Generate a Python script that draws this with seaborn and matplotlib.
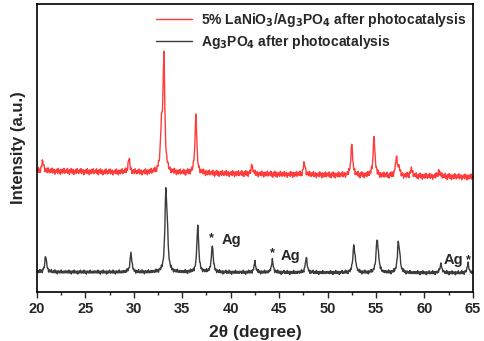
import numpy as np
import pandas as pd
import matplotlib
matplotlib.use("Agg")
import matplotlib.pyplot as plt
import seaborn as sns

# ===== Данные =====
two_theta = np.arange(20.0, 65.0001, 0.05)

# красная кривая: 5% LaNiO3/Ag3PO4
red_base_left, red_base_right = 121, 115
red_pos = [20.6, 29.5, 32.85, 33.1, 36.4, 42.2, 47.6, 52.5, 54.8, 57.1, 57.35, 58.65, 61.5]
red_hgt = [10, 13, 40, 115, 57, 8, 12, 31, 39, 18, 8, 7, 6]

# чёрная кривая: Ag3PO4
blk_base_left, blk_base_right = 20, 19
blk_pos = [20.9, 29.7, 33.3, 33.45, 36.6, 38.1, 42.5, 44.3, 47.8, 52.7, 52.85, 55.1, 55.25, 57.3, 57.45, 61.7, 64.5]
blk_hgt = [16, 19, 74, 30, 47, 27, 10, 12, 15, 24, 8, 31, 10, 28, 10, 9, 9]

# шум фона (в тех же условных единицах)
red_noise = [0, 2, -1, 3, -2, 1, 0, -3, 2, 1, -1, 3, 0, -2, 1, 2, -3, 0, 1, -1,
             2, -2, 0, 3, -1, 1, -2, 0, 2, -1, 1, 3, -2, 0, -1, 2, 0, -3, 1, 0,
             -1, 2, 1, -2, 3, 0, -1, 1, -3, 2, 0, 1, -2, 2, -1, 0, 3, -2, 1, -1]
blk_noise = [0, 1, -1, 1, 0, -1, 2, 0, -1, 1, 0, -2, 1, 0, 1, -1, 0, 2, -1, 0,
             1, -1, 0, 1, -2, 1, 0, -1, 1, 0, 2, -1, 0, -1, 1, 0, -1, 2, 0, -1,
             1, 0, -2, 1, 0, 1, -1, 0, 1, -1, 2, 0, -1, 0, 1, -1, 0, 1, -1, 1]

labels = ["5% LaNiO$_\\mathbf{3}$/Ag$_\\mathbf{3}$PO$_\\mathbf{4}$ after photocatalysis",
          "Ag$_\\mathbf{3}$PO$_\\mathbf{4}$ after photocatalysis"]

ag_star_x = [38.05, 44.35, 64.5]
ag_star_y = [54, 39, 32]
ag_text_x = [39.1, 45.2, 62.0]
ag_text_y = [52, 36, 32]


def pattern(pos, hgt, b_left, b_right, noise):
    y = np.linspace(b_left, b_right, len(two_theta))
    for p, h in zip(pos, hgt):
        y = y + h / (1 + ((two_theta - p) / 0.11) ** 2)
    n = np.resize(np.array(noise, dtype=float), len(two_theta))
    return y + n


df = pd.DataFrame({
    "2theta": two_theta,
    "red": pattern(red_pos, red_hgt, red_base_left, red_base_right, red_noise),
    "black": pattern(blk_pos, blk_hgt, blk_base_left, blk_base_right, blk_noise),
})

sns.set_style("white")
plt.rcParams["font.family"] = ["Liberation Sans", "DejaVu Sans"]
plt.rcParams["font.weight"] = "bold"
plt.rcParams["mathtext.default"] = "bf"

fig = plt.figure(figsize=(4.84, 3.41), dpi=100)
ax = fig.add_axes([0.0764, 0.1437, 0.9006, 0.8443])

sns.lineplot(data=df, x="2theta", y="red", color="#ff3b3b", lw=1.0, ax=ax, label=labels[0])
sns.lineplot(data=df, x="2theta", y="black", color="#3c3c3c", lw=1.0, ax=ax, label=labels[1])

for sx, sy in zip(ag_star_x, ag_star_y):
    ax.text(sx, sy, "*", ha="center", va="center", fontsize=9, fontweight="bold")
for tx, ty in zip(ag_text_x, ag_text_y):
    ax.text(tx, ty, "Ag", ha="left", va="center", fontsize=10.5, fontweight="bold")

ax.set_xlim(20, 65)
ax.set_ylim(0, 288)
ax.set_yticks([])
ax.set_xticks(range(20, 66, 5))
ax.set_xticks(np.arange(22.5, 65, 5), minor=True)
ax.tick_params(axis="x", which="major", direction="out", length=4, width=1, bottom=True,
               labelsize=10.5)
ax.tick_params(axis="x", which="minor", direction="out", length=2.5, width=1, bottom=True)
for s in ax.spines.values():
    s.set_color("black")
    s.set_linewidth(1.2)

ax.set_xlabel("2θ (degree)", fontsize=12.5, fontweight="bold", labelpad=6)
ax.set_ylabel("Intensity (a.u.)", fontsize=12, fontweight="bold", labelpad=8)

leg = ax.legend(loc="upper right", frameon=False, fontsize=10, handlelength=2.6,
                handletextpad=0.6, labelspacing=0.25, borderaxespad=0.1)
for line in leg.get_lines():
    line.set_linewidth(1.0)

fig.savefig("out.png", dpi=100)
plt.close(fig)
